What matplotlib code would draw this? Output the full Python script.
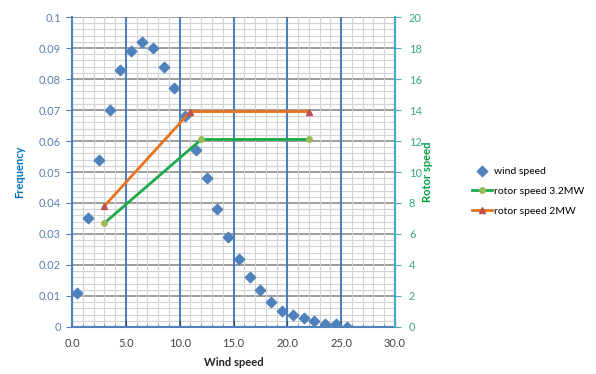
import matplotlib
matplotlib.use("Agg")
import matplotlib.pyplot as plt
from matplotlib.ticker import MultipleLocator, FormatStrFormatter, FuncFormatter

plt.rcParams['font.family'] = ['Lato', 'DejaVu Sans']

# --- dados ---
vento_x = [0.5, 1.5, 2.5, 3.5, 4.5, 5.5, 6.5, 7.5, 8.5, 9.5, 10.5, 11.5, 12.5,
           13.5, 14.5, 15.5, 16.5, 17.5, 18.5, 19.5, 20.5, 21.5, 22.5, 23.5, 24.5, 25.5]
frequencia = [0.011, 0.035, 0.054, 0.070, 0.083, 0.089, 0.092, 0.090, 0.084, 0.077,
              0.068, 0.057, 0.048, 0.038, 0.029, 0.022, 0.016, 0.012, 0.008, 0.005,
              0.004, 0.003, 0.002, 0.001, 0.001, 0.0]

rotor32_x = [3, 12, 22]
rotor32_y = [6.7, 12.1, 12.1]
rotor2_x = [3, 11, 22]
rotor2_y = [7.8, 13.9, 13.9]

AZUL = "#4F81BD"
VERDE = "#1DAA4A"
LARANJA = "#E8731E"

fig = plt.figure(figsize=(5.96, 3.74), dpi=100)
ax = fig.add_axes([0.1208, 0.1257, 0.5420, 0.8288])
ax2 = ax.twinx()

# grade (linhas verticais principais azuis por cima das horizontais)
ax.set_xlim(0, 30)
ax.set_ylim(0, 0.1)
ax.xaxis.set_major_locator(MultipleLocator(5))
ax.xaxis.set_minor_locator(MultipleLocator(1))
ax.yaxis.set_major_locator(MultipleLocator(0.01))
ax.yaxis.set_minor_locator(MultipleLocator(0.002))
ax.grid(which="minor", color="#D3D3D3", linewidth=0.8)
ax.grid(which="major", axis="y", color="#8C8C8C", linewidth=1.2)
ax.grid(which="major", axis="x", color="#4F7FB8", linewidth=1.5)
ax.set_axisbelow(True)
ax.yaxis.set_zorder(0.5)
ax.xaxis.set_zorder(0.6)

ax.scatter(vento_x, frequencia, marker="D", s=28, color=AZUL, zorder=3, label="wind speed")

ax2.set_ylim(0, 20)
ax2.yaxis.set_major_locator(MultipleLocator(2))
l1, = ax2.plot(rotor32_x, rotor32_y, color=VERDE, linewidth=2, marker="o", markersize=4,
               markerfacecolor="#9BBB59", markeredgecolor="#9BBB59", label="rotor speed 3.2MW")
l2, = ax2.plot(rotor2_x, rotor2_y, color=LARANJA, linewidth=2, marker="^", markersize=4,
               markerfacecolor="#C0504D", markeredgecolor="#C0504D", label="rotor speed 2MW")

# formatos dos eixos
ax.xaxis.set_major_formatter(FormatStrFormatter("%.1f"))
ax.yaxis.set_major_formatter(FuncFormatter(lambda v, p: "0" if abs(v) < 1e-9 else f"{v:g}"))

ax.tick_params(axis="x", which="major", labelsize=8, colors="#404040", length=4,
               direction="in", pad=8)
ax.tick_params(axis="x", which="minor", length=2, direction="in", color=AZUL)
ax.tick_params(axis="y", which="major", labelsize=8, labelcolor="#5A7FB0", color=AZUL,
               length=4, direction="out", pad=4)
ax.tick_params(axis="y", which="minor", length=0)
ax2.tick_params(axis="y", labelsize=8, labelcolor="#3FA882", color="#4BACC6", length=4, pad=6)

ax.spines["top"].set_visible(False)
ax2.spines["top"].set_visible(False)
ax.spines["left"].set_color(AZUL)
ax.spines["bottom"].set_color(AZUL)
ax.spines["left"].set_linewidth(1.5)
ax.spines["bottom"].set_linewidth(1.5)
ax2.spines["right"].set_color("#4BACC6")
ax2.spines["right"].set_linewidth(1.5)
ax2.spines["left"].set_visible(False)
ax2.spines["bottom"].set_visible(False)

ax.set_xlabel("Wind speed", fontsize=8, fontweight="bold", color="#222222", labelpad=6)
ax.set_ylabel("Frequency", fontsize=8, fontweight="bold", color="#0070C0", labelpad=10)
ax2.set_ylabel("Rotor speed", fontsize=8, fontweight="bold", color="#00A040", labelpad=0)

h1, lab1 = ax.get_legend_handles_labels()
fig.legend(h1 + [l1, l2], lab1 + [l1.get_label(), l2.get_label()],
           loc="upper left", bbox_to_anchor=(0.785, 0.565), frameon=False,
           fontsize=7.5, handlelength=1.9, labelspacing=1.0, handletextpad=0.2,
           borderaxespad=0.0)

fig.savefig("out.png", dpi=100)
